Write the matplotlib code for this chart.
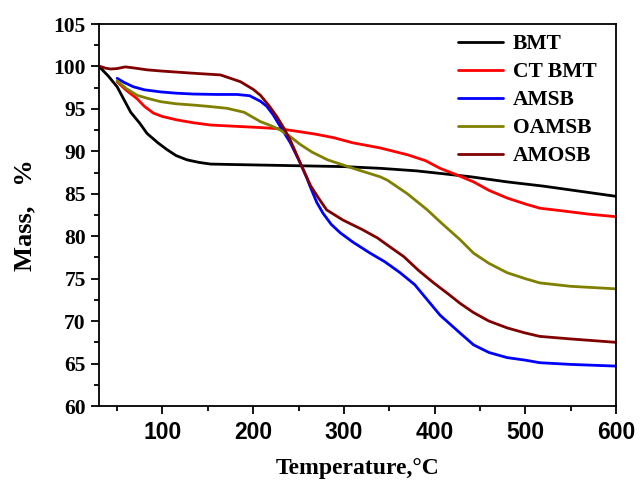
import matplotlib
matplotlib.use("Agg")
import matplotlib.pyplot as plt
from matplotlib.ticker import MultipleLocator

# ---- data ----
bmt_x = [30, 40, 50, 57, 65, 75, 83, 95, 105, 115, 127, 140, 153, 175, 200, 250, 300, 340, 380, 406, 440, 480, 520, 560, 600]
bmt_y = [100, 98.9, 97.6, 96.2, 94.6, 93.3, 92.1, 91.0, 90.2, 89.5, 89.0, 88.7, 88.5, 88.45, 88.4, 88.3, 88.2, 88.0, 87.7, 87.4, 87.0, 86.4, 85.9, 85.3, 84.7]

ct_x = [50, 60, 72, 80, 90, 100, 116, 135, 153, 180, 208, 230, 252, 270, 289, 310, 340, 370, 390, 406, 425, 443, 460, 480, 500, 516, 540, 570, 600]
ct_y = [98.2, 97.2, 96.2, 95.3, 94.5, 94.1, 93.7, 93.35, 93.1, 92.95, 92.8, 92.65, 92.3, 92.0, 91.6, 91.0, 90.4, 89.6, 88.9, 88.0, 87.2, 86.4, 85.4, 84.5, 83.8, 83.3, 83.0, 82.6, 82.3]

amsb_x = [50, 58, 68, 80, 98, 115, 134, 160, 182, 196, 208, 215, 222, 230, 241, 252, 259, 263, 270, 277, 286, 296, 310, 329, 345, 362, 378, 392, 406, 428, 443, 460, 480, 500, 516, 550, 600]
amsb_y = [98.6, 98.1, 97.6, 97.25, 97.0, 96.85, 96.75, 96.7, 96.7, 96.55, 95.9, 95.3, 94.3, 92.9, 91.0, 88.6, 86.9, 85.8, 84.0, 82.7, 81.4, 80.4, 79.3, 78.0, 77.0, 75.7, 74.3, 72.5, 70.7, 68.6, 67.2, 66.3, 65.7, 65.4, 65.1, 64.9, 64.7]

oamsb_x = [50, 60, 72, 85, 98, 115, 134, 150, 171, 190, 208, 220, 230, 240, 252, 265, 282, 310, 340, 348, 370, 392, 406, 428, 443, 460, 480, 500, 516, 550, 600]
oamsb_y = [98.3, 97.4, 96.6, 96.2, 95.85, 95.6, 95.45, 95.3, 95.07, 94.6, 93.5, 93.0, 92.5, 91.8, 90.8, 89.9, 89.0, 88.0, 87.0, 86.6, 85.0, 83.1, 81.7, 79.6, 78.0, 76.8, 75.7, 75.0, 74.5, 74.1, 73.8]

amosb_x = [30, 37, 43, 50, 59, 70, 83, 100, 134, 164, 186, 200, 208, 218, 226, 234, 241, 252, 263, 272, 281, 299, 320, 337, 350, 366, 382, 399, 415, 428, 443, 460, 480, 500, 516, 550, 600]
amosb_y = [100.05, 99.8, 99.7, 99.75, 99.95, 99.8, 99.6, 99.45, 99.2, 99.0, 98.2, 97.3, 96.6, 95.3, 94.1, 92.7, 91.3, 88.6, 86.0, 84.5, 83.1, 81.9, 80.8, 79.8, 78.8, 77.6, 76.0, 74.5, 73.2, 72.1, 71.0, 70.0, 69.2, 68.6, 68.2, 67.9, 67.5]

series = [
    ("BMT", bmt_x, bmt_y, "#000000"),
    ("CT BMT", ct_x, ct_y, "#FF0000"),
    ("AMSB", amsb_x, amsb_y, "#0000FF"),
    ("OAMSB", oamsb_x, oamsb_y, "#808000"),
    ("AMOSB", amosb_x, amosb_y, "#800000"),
]

serif = ["Liberation Serif", "DejaVu Serif"]
sans = ["Liberation Sans", "DejaVu Sans"]

fig = plt.figure(figsize=(6.44, 4.86), dpi=100)
ax = fig.add_axes([99/644, 1-406/486, (616-99)/644, (406-24)/486])

for name, xs, ys, c in series:
    ax.plot(xs, ys, color=c, lw=2.0, label=name, solid_joinstyle="round", solid_capstyle="round")

ax.set_xlim(30, 600)
ax.set_ylim(60, 105)
ax.xaxis.set_major_locator(MultipleLocator(100))
ax.xaxis.set_minor_locator(MultipleLocator(50))
ax.yaxis.set_major_locator(MultipleLocator(5))
ax.yaxis.set_minor_locator(MultipleLocator(2.5))
ax.tick_params(which="both", direction="out", top=False, right=False, width=1.3)
ax.tick_params(which="major", length=6)
ax.tick_params(which="minor", length=3.5)
ax.tick_params(axis="x", pad=5)
for s in ax.spines.values():
    s.set_linewidth(1.3)

for lab in ax.get_xticklabels():
    lab.set_fontfamily(sans)
    lab.set_fontweight("bold")
    lab.set_fontsize(16.5)
for lab in ax.get_yticklabels():
    lab.set_fontfamily(serif)
    lab.set_fontweight("bold")
    lab.set_fontsize(15.5)

ax.set_xlabel("Temperature,\u00b0C", fontfamily=serif, fontweight="bold", fontsize=17, labelpad=10)
ax.set_ylabel("Mass,   %", fontfamily=serif, fontweight="bold", fontsize=19, labelpad=12)

leg = ax.legend(loc="upper left", bbox_to_anchor=(458/644, 1-34/486), bbox_transform=fig.transFigure,
                frameon=False, borderpad=0, borderaxespad=0,
                prop={"family": serif, "weight": "bold", "size": 15.5},
                handlelength=2.1, labelspacing=0.37, handletextpad=0.45)
for l in leg.get_lines():
    l.set_linewidth(2.0)

fig.savefig("out.png", dpi=100)
